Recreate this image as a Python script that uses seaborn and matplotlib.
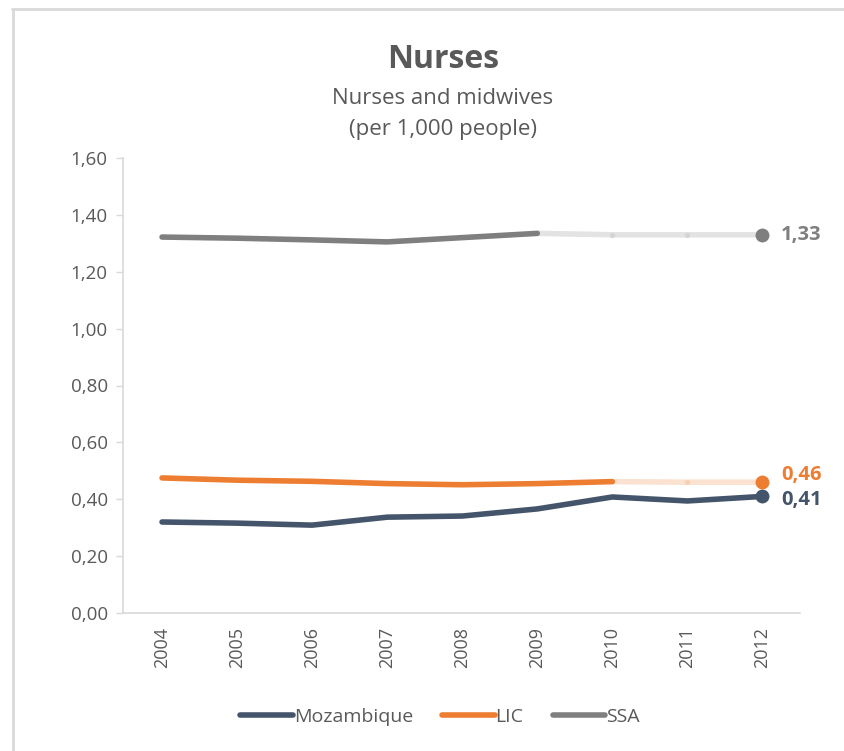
import matplotlib
matplotlib.use('Agg')
import matplotlib.pyplot as plt
import seaborn as sns
import pandas as pd
import numpy as np
from matplotlib.lines import Line2D

# --- Data ---
years = ['2004', '2005', '2006', '2007', '2008', '2009', '2010', '2011', '2012']
mozambique = [0.320, 0.316, 0.309, 0.337, 0.341, 0.366, 0.408, 0.394, 0.410]
lic = [0.475, 0.467, 0.463, 0.455, 0.451, 0.455, 0.462, 0.460, 0.460]
ssa = [1.322, 1.318, 1.312, 1.305, 1.320, 1.335, 1.330, 1.330, 1.330]
# last index with real (non-projected) data for each series
last_actual = {'Mozambique': 8, 'LIC': 6, 'SSA': 5}
y_ticks = [0.0, 0.2, 0.4, 0.6, 0.8, 1.0, 1.2, 1.4, 1.6]

series = {'Mozambique': mozambique, 'LIC': lic, 'SSA': ssa}
colors = {'Mozambique': '#44546A', 'LIC': '#ED7D31', 'SSA': '#7F7F7F'}
faded = {'Mozambique': '#C7CCD4', 'LIC': '#FBE2D0', 'SSA': '#E3E3E3'}
dot_faded = {'Mozambique': '#B5BCC7', 'LIC': '#F6D0B4', 'SSA': '#D4D4D4'}

rows = []
for name, vals in series.items():
    for i, (yr, v) in enumerate(zip(years, vals)):
        rows.append({'year': yr, 'idx': i, 'value': v, 'series': name,
                     'actual': i <= last_actual[name]})
df = pd.DataFrame(rows)

sns.set_theme(style="white")
plt.rcParams['font.family'] = ['Open Sans', 'DejaVu Sans']
TXT = '#595959'
LW = 4

fig = plt.figure(figsize=(8.44, 7.51), dpi=100)
ax = fig.add_axes([123 / 844, 138 / 751, (800 - 123) / 844, (613 - 158) / 751])

# projected (faded) segments first, so solid lines sit on top
for name in series:
    sub = df[(df.series == name) & (df.idx >= last_actual[name])]
    if len(sub) > 1:
        ax.plot(sub.idx, sub.value, color=faded[name], lw=LW,
                solid_capstyle='round', zorder=1)
        mid = sub[(sub.idx > last_actual[name]) & (sub.idx < 8)]
        ax.scatter(mid.idx, mid.value, s=14, color=dot_faded[name],
                   zorder=2, linewidths=0)

sns.lineplot(data=df[df.actual], x='idx', y='value', hue='series',
             palette=colors, hue_order=['Mozambique', 'LIC', 'SSA'],
             lw=LW, ax=ax, legend=False, zorder=3)
for line in ax.lines:
    line.set_solid_capstyle('round')
    line.set_solid_joinstyle('round')

# end markers + labels
offsets = {'Mozambique': -0.012, 'LIC': 0.025, 'SSA': 0.0}
for name, vals in series.items():
    ax.scatter([8], [vals[-1]], s=100, color=colors[name], zorder=4, linewidths=0)
    ax.text(8.25, vals[-1] + offsets[name], f"{vals[-1]:.2f}".replace('.', ','),
            color=colors[name], fontsize=14.5, fontweight='bold',
            va='center', ha='left', clip_on=False)

ax.set_xlim(-0.52, 8.5)
ax.set_ylim(0, 1.6)
ax.set_xticks(range(len(years)))
ax.set_xticklabels(years, rotation=90, color=TXT, fontsize=13)
ax.set_yticks(y_ticks)
ax.set_yticklabels([f"{t:.2f}".replace('.', ',') for t in y_ticks],
                   color=TXT, fontsize=13.5)
ax.set_xlabel('')
ax.set_ylabel('')
ax.tick_params(axis='y', length=5, color='#D9D9D9', width=1, pad=6, left=True)
ax.tick_params(axis='x', length=0, pad=10)
for s in ['top', 'right']:
    ax.spines[s].set_visible(False)
for s in ['left', 'bottom']:
    ax.spines[s].set_color('#D9D9D9')
    ax.spines[s].set_linewidth(1.2)

# titles
fig.text(443 / 844, 1 - 60 / 751, 'Nurses', ha='center', va='center',
         fontsize=23, fontweight='bold', color=TXT)
fig.text(443 / 844, 1 - 99 / 751, 'Nurses and midwives', ha='center',
         va='center', fontsize=16, color=TXT)
fig.text(443 / 844, 1 - 130 / 751, '(per 1,000 people)', ha='center',
         va='center', fontsize=16, color=TXT)

# legend
handles = [Line2D([0], [0], color=colors[n], lw=LW, solid_capstyle='round')
           for n in series]
fig.legend(handles, list(series.keys()), loc='center', ncol=3,
           bbox_to_anchor=(440 / 844, 1 - 717 / 751), frameon=False,
           handlelength=2.7, handletextpad=0.05, columnspacing=1.5,
           labelcolor=TXT, prop={'size': 14})

# light frame around the chart area
fig.add_artist(Line2D([12 / 844, 1], [1 - 9 / 751, 1 - 9 / 751],
                      color='#D9D9D9', lw=2, transform=fig.transFigure))
fig.add_artist(Line2D([13 / 844, 13 / 844], [0, 1 - 9 / 751],
                      color='#D9D9D9', lw=2, transform=fig.transFigure))

fig.savefig('out.png', dpi=100, facecolor='white')
